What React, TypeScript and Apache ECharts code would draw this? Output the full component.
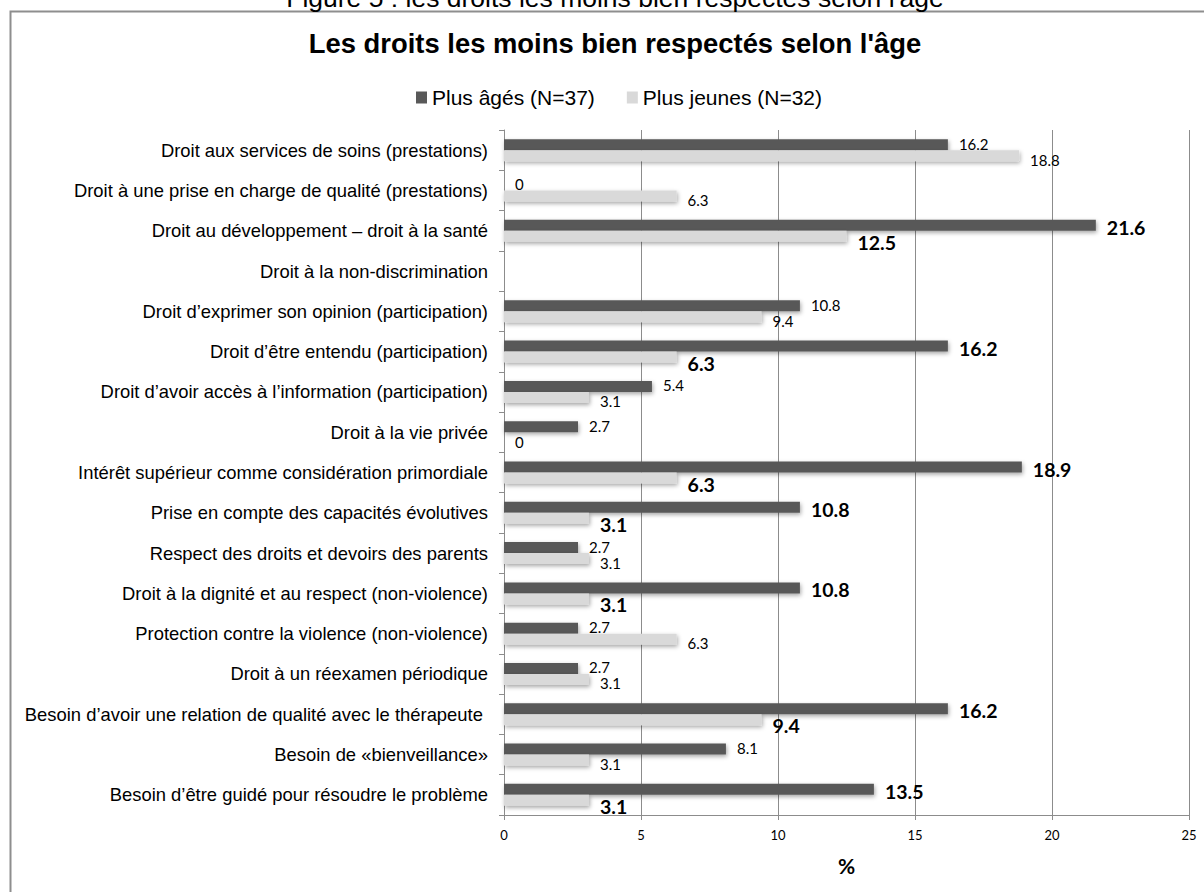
import React, { useEffect, useRef } from "react";
import * as echarts from "echarts";

// Rights, listed top to bottom
const categories = [
  "Droit aux services de soins (prestations)",
  "Droit à une prise en charge de qualité (prestations)",
  "Droit au développement – droit à la santé",
  "Droit à la non-discrimination",
  "Droit d’exprimer son opinion (participation)",
  "Droit d’être entendu (participation)",
  "Droit d’avoir accès à l’information (participation)",
  "Droit à la vie privée",
  "Intérêt supérieur comme considération primordiale",
  "Prise en compte des capacités évolutives",
  "Respect des droits et devoirs des parents",
  "Droit à la dignité et au respect (non-violence)",
  "Protection contre la violence (non-violence)",
  "Droit à un réexamen périodique",
  "Besoin d’avoir une relation de qualité avec le thérapeute ",
  "Besoin de «bienveillance»",
  "Besoin d’être guidé pour résoudre le problème",
];

const olderName = "Plus âgés (N=37)";
const youngerName = "Plus jeunes (N=32)";

// Percentages; null = no answer recorded for that right
const olderValues: (number | null)[] = [
  16.2, 0, 21.6, null, 10.8, 16.2, 5.4, 2.7, 18.9, 10.8, 2.7, 10.8, 2.7, 2.7, 16.2, 8.1, 13.5,
];
const youngerValues: (number | null)[] = [
  18.8, 6.3, 12.5, null, 9.4, 6.3, 3.1, 0, 6.3, 3.1, 3.1, 3.1, 6.3, 3.1, 9.4, 3.1, 3.1,
];

// Rows whose value labels are set in large bold type
const emphasized = [
  false, false, true, false, false, true, false, false, true, true, false, true, false, false, true, false, true,
];

const axisMin = 0;
const axisMax = 25;
const axisStep = 5;

const titleText = "Les droits les moins bien respectés selon l'âge";
const captionText = "Figure 5 : les droits les moins bien respectés selon l'âge";

const DARK = "#595959";
const LIGHT = "#d9d9d9";
const GRID = "#8c8c8c";
const SANS = "'Liberation Sans', Arial, sans-serif";
const LABEL_FONT = "Lato, 'Open Sans', sans-serif";

function buildData(values: (number | null)[], smallDy: number, bigDy: number) {
  return values.map((v, i) => {
    if (v === null) return "-";
    const big = emphasized[i];
    return {
      value: v,
      label: big
        ? { fontSize: 19.5, fontWeight: "bold", offset: [0, bigDy] }
        : { fontSize: 15, fontWeight: "normal", offset: [0, smallDy] },
    };
  });
}

const barShadow = {
  shadowBlur: 4,
  shadowColor: "rgba(0,0,0,0.35)",
  shadowOffsetX: 1,
  shadowOffsetY: 2,
};

export default function App() {
  const ref = useRef<HTMLDivElement>(null);

  useEffect(() => {
    if (!ref.current) return;
    const chart = echarts.init(ref.current, null, { renderer: "svg" });

    chart.setOption({
      animation: false,
      backgroundColor: "#ffffff",
      textStyle: { fontFamily: SANS },
      graphic: [
        {
          type: "polyline",
          silent: true,
          z: -1,
          shape: { points: [[10.5, 892], [10.5, 11.5], [1204, 11.5]] },
          style: { stroke: "#8e8e8e", lineWidth: 2, fill: null },
        },
        {
          // figure caption sitting just above the chart frame
          type: "text",
          x: 615,
          y: -2.2,
          style: {
            text: captionText,
            font: `26.5px ${SANS}`,
            fill: "#000",
            align: "center",
            verticalAlign: "middle",
          },
        },
        {
          type: "text",
          x: 615,
          y: 43.6,
          style: {
            text: titleText,
            font: `bold 27.4px ${SANS}`,
            fill: "#000",
            align: "center",
            verticalAlign: "middle",
          },
        },
      ],
      legend: {
        left: 411,
        top: 82,
        itemWidth: 11,
        itemHeight: 12,
        itemGap: 32,
        icon: "rect",
        textStyle: { fontFamily: SANS, fontSize: 21, color: "#000" },
        data: [olderName, youngerName],
      },
      grid: { left: 504, top: 130, right: 15, bottom: 77, containLabel: false },
      xAxis: {
        type: "value",
        min: axisMin,
        max: axisMax,
        interval: axisStep,
        name: "%",
        nameLocation: "middle",
        nameGap: 40,
        nameTextStyle: { fontFamily: LABEL_FONT, fontSize: 21, fontWeight: "bold", color: "#000" },
        axisLine: { show: true, lineStyle: { color: GRID, width: 1 } },
        axisTick: { show: true, length: 5, lineStyle: { color: GRID } },
        axisLabel: { fontFamily: LABEL_FONT, fontSize: 13, color: "#000", margin: 13 },
        splitLine: { show: true, lineStyle: { color: GRID, width: 1 } },
      },
      yAxis: {
        type: "category",
        inverse: true,
        data: categories,
        axisLine: { show: true, lineStyle: { color: GRID, width: 1 } },
        axisTick: { show: true, length: 5, lineStyle: { color: GRID } },
        axisLabel: { fontFamily: SANS, fontSize: 18.4, color: "#000", margin: 16 },
        splitLine: { show: false },
      },
      series: [
        {
          name: olderName,
          type: "bar",
          barWidth: 11,
          barGap: "0%",
          itemStyle: { color: DARK, ...barShadow },
          label: {
            show: true,
            position: "right",
            distance: 11,
            fontFamily: LABEL_FONT,
            color: "#000",
          },
          data: buildData(olderValues, -1, 2),
        },
        {
          name: youngerName,
          type: "bar",
          barWidth: 11,
          barGap: "0%",
          itemStyle: { color: LIGHT, ...barShadow },
          label: {
            show: true,
            position: "right",
            distance: 11,
            fontFamily: LABEL_FONT,
            color: "#000",
          },
          data: buildData(youngerValues, 4, 6),
        },
      ],
    });

    return () => chart.dispose();
  }, []);

  return (
    <div
      ref={ref}
      style={{ position: "fixed", left: 0, top: 0, width: 1204, height: 892, background: "#fff" }}
    />
  );
}
